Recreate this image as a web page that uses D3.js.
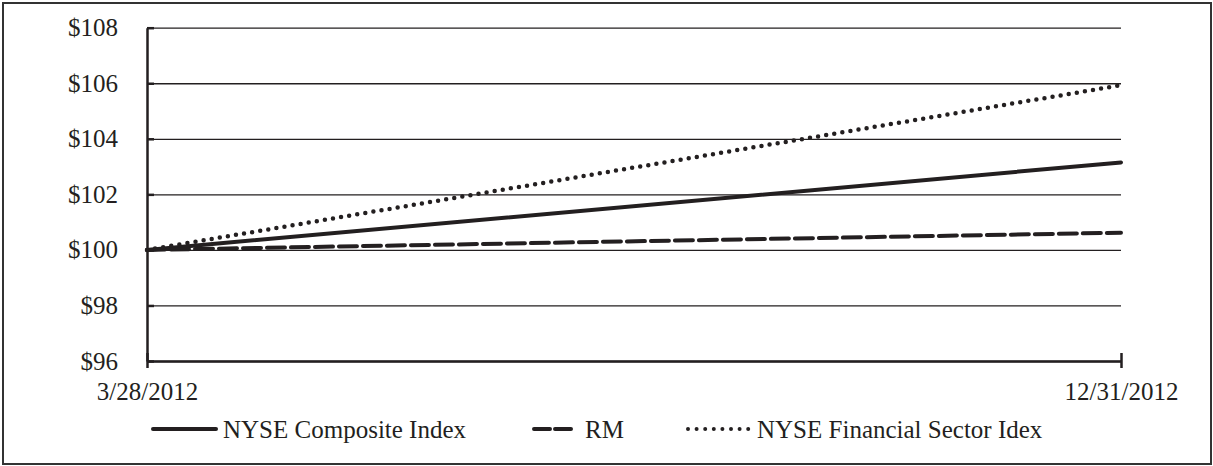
<!DOCTYPE html>
<html>
<head>
<meta charset="utf-8">
<script src="https://cdn.jsdelivr.net/npm/d3@7"></script>
<style>
  html, body { margin: 0; padding: 0; background: #fff; }
  svg { display: block; }
  svg text { font-family: "Liberation Serif", "Times New Roman", Times, "DejaVu Serif", serif !important; fill: #231f20; }
</style>
</head>
<body>
<svg id="chart" width="1213" height="466"></svg>
<script>
// Cumulative value of $100 invested, start of trading to year end
const dates = ["3/28/2012", "12/31/2012"];
const composite = [100, 103.15];
const rm = [100, 100.62];
const financial = [100, 105.93];
const yTicks = [96, 98, 100, 102, 104, 106, 108];

const seriesNames = ["NYSE Composite Index", "RM", "NYSE Financial Sector Idex"];

const ink = "#231f20";
const serif = "'Liberation Serif', 'Times New Roman', Times, 'DejaVu Serif', serif";
const svg = d3.select("#chart");
const W = 1213, H = 466;
const plotLeft = 147, plotRight = 1121, plotTop = 27.7, plotBottom = 361;

// outer frame
svg.append("rect")
  .attr("x", 3).attr("y", 3).attr("width", W - 5).attr("height", H - 5)
  .attr("fill", "none").attr("stroke", "#333").attr("stroke-width", 2);

const x = d3.scalePoint().domain(dates).range([plotLeft, plotRight]).padding(0);
const y = d3.scaleLinear().domain([96, 108]).range([plotBottom, plotTop]);

// horizontal gridlines
svg.append("g")
  .attr("transform", `translate(${plotLeft},0)`)
  .call(d3.axisLeft(y).tickValues(yTicks).tickSize(-(plotRight - plotLeft)).tickFormat(""))
  .call(g => g.select(".domain").remove())
  .call(g => g.selectAll("line").attr("stroke", ink).attr("stroke-width", 1.3));

// y axis with short inward ticks
svg.append("g")
  .attr("transform", `translate(${plotLeft},0)`)
  .call(d3.axisLeft(y).tickValues(yTicks).tickSizeInner(-7).tickSizeOuter(0)
    .tickPadding(29).tickFormat(d => "$" + d))
  .attr("font-family", serif)
  .call(g => g.select(".domain").attr("stroke", ink).attr("stroke-width", 2.5))
  .call(g => g.selectAll("line").attr("stroke", ink).attr("stroke-width", 2.5))
  .call(g => g.selectAll("text").attr("font-size", 25).attr("fill", ink));

// x axis
svg.append("g")
  .attr("transform", `translate(0,${plotBottom})`)
  .call(d3.axisBottom(x).tickSizeInner(7).tickSizeOuter(0).tickPadding(14))
  .attr("font-family", serif)
  .call(g => g.select(".domain").attr("stroke", ink).attr("stroke-width", 2.5))
  .call(g => g.selectAll(".tick line").attr("y1", -8).attr("stroke", ink).attr("stroke-width", 2.5))
  .call(g => g.selectAll("text").attr("font-size", 25).attr("fill", ink));

const styles = [
  { values: composite, width: 4, dash: null },
  { values: rm, width: 4, dash: "18 6" },
  { values: financial, width: 4.5, dash: "0 8.2" }
];

const line = d3.line().x((d, i) => x(dates[i])).y(d => y(d));

styles.forEach(s => {
  svg.append("path")
    .datum(s.values)
    .attr("d", line)
    .attr("fill", "none")
    .attr("stroke", ink)
    .attr("stroke-width", s.width)
    .attr("stroke-linecap", "round")
    .attr("stroke-dasharray", s.dash);
});

// legend
const legendY = 429;
const legendItems = [
  { x1: 153, x2: 216, tx: 223, width: 4, dash: null },
  { x1: 534, x2: 572, tx: 585, width: 4, dash: "16 5" },
  { x1: 688, x2: 756, tx: 757, width: 4, dash: "0 8.6" }
];
legendItems.forEach((it, i) => {
  svg.append("line")
    .attr("x1", it.x1).attr("x2", it.x2).attr("y1", legendY).attr("y2", legendY)
    .attr("stroke", ink).attr("stroke-width", it.width)
    .attr("stroke-linecap", "round")
    .attr("stroke-dasharray", it.dash);
  svg.append("text")
    .attr("x", it.tx).attr("y", 437.5)
    .attr("font-family", serif)
    .attr("font-size", 25)
    .text(seriesNames[i]);
});
</script>
</body>
</html>
